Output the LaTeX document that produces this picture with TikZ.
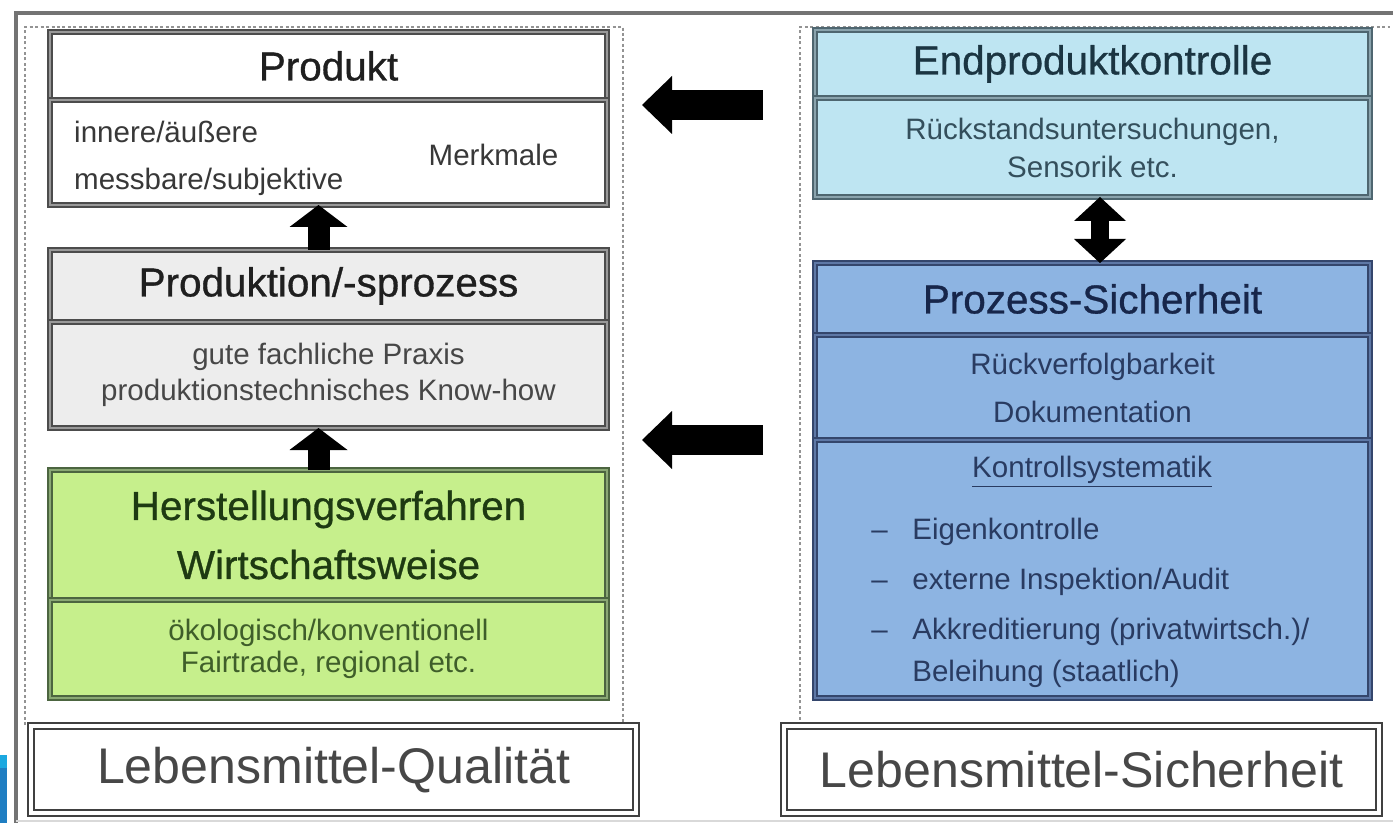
\documentclass[tikz,border=0pt]{standalone}
\usepackage{fontspec}
\setmainfont{Liberation Sans}
\newfontfamily\kopfschrift[FakeBold=0.8]{Liberation Sans}
\usetikzlibrary{arrows.meta,positioning,calc}

\definecolor{grauhell}{HTML}{EDEDED}
\definecolor{gruen}{HTML}{C6EF8C}
\definecolor{gruenrand}{HTML}{4C6540}
\definecolor{gruenmitte}{HTML}{8AA874}
\definecolor{gruentext}{HTML}{1E3A12}
\definecolor{cyanhell}{HTML}{BEE5F2}
\definecolor{cyanrand}{HTML}{4E6670}
\definecolor{cyanmitte}{HTML}{8AA3AD}
\definecolor{cyantext}{HTML}{1B3542}
\definecolor{blau}{HTML}{8DB4E2}
\definecolor{blaurand}{HTML}{34466C}
\definecolor{blaumitte}{HTML}{5E78A6}
\definecolor{blautext}{HTML}{17264A}
\definecolor{eckhell}{HTML}{1BA8E0}
\definecolor{eckblau}{HTML}{1F7EC2}

\begin{document}
\begin{tikzpicture}
      [kasten/.style n args = {3}{
         draw = #1,
         double = #2,
         double distance = 1.3pt,
         line width = 0.95pt,
         fill = #3,
         outer sep = 0pt,
         inner sep = 0pt
      },
      kopf/.style = {font = \kopfschrift\fontsize{23}{27}\selectfont},
      inhalt/.style = {font = \fontsize{16.8}{20.5}\selectfont},
      etikett/.style = {
         draw = black!75,
         double = white,
         double distance = 2pt,
         line width = 1.3pt,
         fill = white,
         text = black!72,
         font = \fontsize{28.5}{32}\selectfont,
         minimum height = 1.74cm,
         inner sep = 0pt
      },
      bereich/.style = {
         draw = gray!85,
         line width = 1.1pt,
         dash pattern = on 1.7pt off 1.4pt
      },
      pfeil/.style = {
         line width = 0.6cm,
         -{Triangle[width = 1.16cm, length = 0.6cm, line width = 0pt]}
      },
      hoch/.style = {
         line width = 0.44cm,
         -{Triangle[width = 1.16cm, length = 0.44cm, line width = 0pt]}
      },
      doppel/.style = {
         line width = 0.36cm,
         {Triangle[width = 1.04cm, length = 0.48cm, line width = 0pt]}-{Triangle[width = 1.04cm, length = 0.48cm, line width = 0pt]}
      }]
      \useasboundingbox (0, 0) rectangle (27.86, -16.46);

      \draw[black!55, line width = 1.8pt] (27.86, -0.26) -- (0.32, -0.26) -- (0.32, -16.46);
      \draw[gray!30, line width = 1pt] (0.32, -16.42) -- (27.86, -16.42);
      \fill[eckhell] (0, -15.1) rectangle (0.14, -15.36);
      \fill[eckblau] (0, -15.36) rectangle (0.14, -16.46);

      \draw[bereich] (0.5, -14.5) |- (12.46, -0.54) -- (12.46, -14.5);
      \draw[bereich] (16.0, -14.5) |- (27.8, -0.54);

      \node[kasten = {black!70}{black!40}{white}, kopf, text = black!88, minimum width = 11.14cm, minimum height = 1.36cm, anchor = north west] (produkt) at (1.0, -0.64) {Produkt};
      \node[kasten = {black!70}{black!40}{white}, minimum width = 11.14cm, minimum height = 2.1cm, below = 0pt of produkt] (merkmale) {};
      \node[inhalt, text = black!78, anchor = west] (innen) at (1.36, -2.64) {innere/äußere};
      \node[inhalt, text = black!78, anchor = west] (messbar) at (1.36, -3.64) {messbare/subjektive};
      \node[inhalt, text = black!78] (merkmal) at (9.87, -3.1) {Merkmale};

      \node[kasten = {black!70}{black!40}{grauhell}, kopf, text = black!88, minimum width = 11.14cm, minimum height = 1.44cm, anchor = north west] (prozess) at (1.0, -5.0) {Produktion/-sprozess};
      \node[kasten = {black!70}{black!40}{grauhell}, inhalt, text = black!72, align = center, minimum width = 11.14cm, minimum height = 2.12cm, below = 0pt of prozess] (praxis) {gute fachliche Praxis\\produktionstechnisches Know-how};

      \node[kasten = {gruenrand}{gruenmitte}{gruen}, kopf, text = gruentext, align = center, minimum width = 11.14cm, minimum height = 2.6cm, anchor = north west] (verfahren) at (1.0, -9.4) {Herstellungsverfahren\\[6.6pt]Wirtschaftsweise};
      \node[kasten = {gruenrand}{gruenmitte}{gruen}, inhalt, text = gruentext!80!gruen, align = center, minimum width = 11.14cm, minimum height = 1.96cm, below = 0pt of verfahren] (weise) {ökologisch/konventionell\\[-2.3pt]Fairtrade, regional etc.};

      \node[kasten = {cyanrand}{cyanmitte}{cyanhell}, kopf, text = cyantext, minimum width = 11.1cm, minimum height = 1.36cm, anchor = north west] (endkontrolle) at (16.3, -0.6) {Endproduktkontrolle};
      \node[kasten = {cyanrand}{cyanmitte}{cyanhell}, inhalt, text = cyantext!85!cyanhell, align = center, minimum width = 11.1cm, minimum height = 1.98cm, below = 0pt of endkontrolle] (rueckstand) {Rückstandsuntersuchungen,\\[1.1pt]Sensorik etc.};

      \node[kasten = {blaurand}{blaumitte}{blau}, kopf, text = blautext, minimum width = 11.1cm, minimum height = 1.44cm, anchor = north west] (sicherheit) at (16.3, -5.26) {Prozess-Sicherheit};
      \node[kasten = {blaurand}{blaumitte}{blau}, inhalt, text = blautext!85!blau, align = center, minimum width = 11.1cm, minimum height = 2.1cm, below = 0pt of sicherheit] (doku) {Rückverfolgbarkeit\\[6.8pt]Dokumentation};
      \node[kasten = {blaurand}{blaumitte}{blau}, minimum width = 11.1cm, minimum height = 5.16cm, below = 0pt of doku] (system) {};
      \node[inhalt, text = blautext!85!blau] (kontroll) at (21.84, -9.44) {\underline{Kontrollsystematik}};
      \node[inhalt, text = blautext!85!blau, anchor = base west, inner sep = 0pt] (liste) at (17.42, -10.78)
         {\begin{tabular}[t]{@{}l@{\hspace{14pt}}l@{}}
            – & Eigenkontrolle\\[8pt]
            – & externe Inspektion/Audit\\[8pt]
            – & Akkreditierung (privatwirtsch.)/\\[3.4pt]
              & Beleihung (staatlich)
         \end{tabular}};

      \node[etikett, minimum width = 12.1cm, anchor = north west] (qualitaet) at (0.6, -14.5) {Lebensmittel-Qualität};
      \node[etikett, minimum width = 11.9cm, anchor = north west] (lmsicher) at (15.66, -14.5) {Lebensmittel-Sicherheit};

      \draw[hoch] ([xshift = -0.2cm]prozess.north) -- ([xshift = -0.2cm]merkmale.south);
      \draw[hoch] ([xshift = -0.2cm]verfahren.north) -- ([xshift = -0.2cm]praxis.south);
      \draw[doppel] ([xshift = 0.15cm]rueckstand.south) -- ([xshift = 0.15cm]sicherheit.north);

      \coordinate (spitzeA) at (12.84, -2.1);
      \coordinate (spitzeB) at (12.84, -8.8);
      \draw[pfeil, shorten < = 1.04cm] (endkontrolle.west |- spitzeA) -- (spitzeA);
      \draw[pfeil, shorten < = 1.04cm] (doku.west |- spitzeB) -- (spitzeB);
   \end{tikzpicture}
\end{document}
